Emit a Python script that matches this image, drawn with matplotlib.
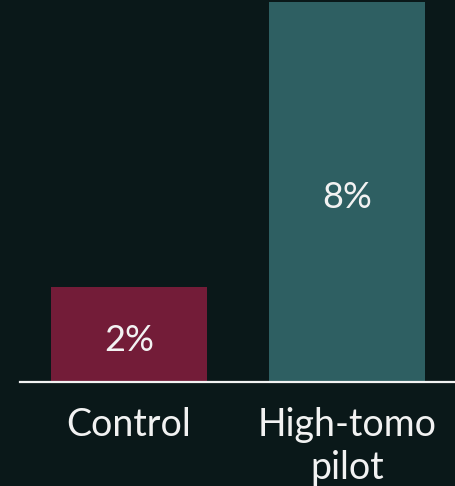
import matplotlib.pyplot as plt
from matplotlib import font_manager

# data
categories = ['Control', 'High-tomo\npilot']
values = [2, 8]
value_labels = ['2%', '8%']
bar_colors = ['#731c38', '#2e5f62']

bg = '#0a1819'
text_color = '#f2f2f2'

# make sure the regular cut of Lato is used
lato_files = [f for f in font_manager.findSystemFonts() if 'Lato-Regular' in f]
if lato_files:
    font_manager.fontManager.addfont(lato_files[0])
    fam = font_manager.FontProperties(fname=lato_files[0]).get_name()
else:
    fam = 'Lato'
plt.rcParams['font.family'] = [fam, 'DejaVu Sans']

fig = plt.figure(figsize=(4.56, 4.86), dpi=100, facecolor=bg)
ax = fig.add_axes([20 / 456, (486 - 382) / 486, 436 / 456, 380 / 486])
ax.set_facecolor(bg)

x = range(len(categories))
bars = ax.bar(x, values, width=0.716, color=bar_colors)

# value labels centred inside each bar
for rect, lab in zip(bars, value_labels):
    ax.annotate(lab, (rect.get_x() + rect.get_width() / 2, rect.get_height() / 2),
                xytext=(0, -4), textcoords='offset points',
                ha='center', va='center', color=text_color, fontsize=26)

ax.set_xlim(-0.5, 1.5)
ax.set_ylim(0, 8)
ax.set_xticks(list(x))
ax.set_xticklabels(categories, fontsize=27, color=text_color, linespacing=1.25)
ax.tick_params(axis='x', length=0, pad=18)
ax.set_yticks([])

for side in ['top', 'right', 'left']:
    ax.spines[side].set_visible(False)
ax.spines['bottom'].set_color(text_color)
ax.spines['bottom'].set_linewidth(1.6)

fig.savefig('out.png', dpi=100, facecolor=bg)
